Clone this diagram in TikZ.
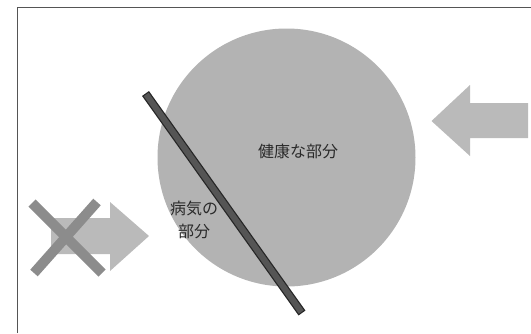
\documentclass[tikz,border=0pt]{standalone}
\usepackage{fontspec}
\newfontfamily\jp{Noto Sans CJK JP}
\definecolor{circgray}{HTML}{B3B3B3}
\definecolor{arrowgray}{HTML}{BABABA}
\definecolor{crossgray}{HTML}{8C8C8C}
\definecolor{bargray}{HTML}{555555}
\definecolor{framegray}{HTML}{555555}
\definecolor{textgray}{HTML}{2A2A2A}
\tikzset{
  frameline/.style={draw=framegray, line width=1pt},
  bigarrow/.style={fill=arrowgray},
  crossbar/.style={draw=crossgray, line width=10pt, line cap=butt},
  lbl/.style={font=\jp\fontsize{16}{23}\selectfont, text=textgray, align=center, inner sep=0pt}
}
\begin{document}
\begin{tikzpicture}[x=1pt, y=-1pt]
\useasboundingbox (0,0) rectangle (531,333);
% frame
\draw[frameline] (17,333) -- (17,7) -- (531,7);
% circle
\fill[circgray] (286.5,157.5) circle[radius=129pt];
% dividing bar
\coordinate (b1) at (145.5,93.5);
\coordinate (b2) at (302,313);
\draw[black!85, line width=8.5pt] (b1) -- (b2);
\draw[bargray, line width=6pt, shorten <=1.2pt, shorten >=1.2pt] (b1) -- (b2);
% left arrow (pointing right)
\fill[bigarrow] (51,218) -- (110,218) -- (110,202) -- (149,236) -- (110,271) -- (110,254) -- (51,254) -- cycle;
% cross
\coordinate (c1) at (32,203);
\coordinate (c2) at (102,273);
\coordinate (c3) at (97,202);
\coordinate (c4) at (34,273);
\draw[crossbar] (c1) -- (c2);
\draw[crossbar] (c3) -- (c4);
% right arrow (pointing left)
\fill[bigarrow] (528,103) -- (470,103) -- (470,85) -- (431.5,121) -- (470,156) -- (470,138) -- (528,138) -- cycle;
% labels
\node[lbl] (healthy) at (298,151) {健康な部分};
\node[lbl] (sick) at (194,220) {病気の\\部分};
\end{tikzpicture}
\end{document}
